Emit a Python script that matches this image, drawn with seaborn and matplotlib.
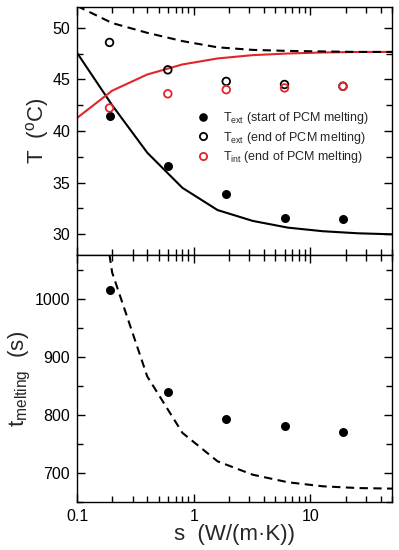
import numpy as np
import pandas as pd
import matplotlib
matplotlib.use("Agg")
import matplotlib.pyplot as plt
import seaborn as sns
from matplotlib.ticker import MultipleLocator, LogLocator, NullFormatter, FixedLocator, FixedFormatter
from matplotlib.lines import Line2D

sns.set_style("ticks")
plt.rcParams['font.family'] = ['Liberation Sans', 'DejaVu Sans']
plt.rcParams['mathtext.fontset'] = 'custom'
plt.rcParams['mathtext.rm'] = 'Liberation Sans'
plt.rcParams['mathtext.it'] = 'Liberation Sans:italic'

# ---- data ----
s_points = [0.19, 0.6, 1.9, 6.0, 19.0]
T_ext_start = [41.46, 36.6, 33.9, 31.6, 31.45]
T_ext_end = [48.57, 45.92, 44.8, 44.5, 44.33]
T_int_end = [42.23, 43.6, 44.0, 44.17, 44.33]
t_melting_pts = [1014, 840, 793, 780, 770]

s_model = [0.1, 0.2, 0.4, 0.8, 1.6, 3.2, 6.4, 12.8, 25.6, 51.2]
T_ext_model_start = [47.57, 42.5, 37.9, 34.5, 32.35, 31.3, 30.65, 30.3, 30.1, 30.0]
T_int_model = [41.26, 43.9, 45.47, 46.44, 47.02, 47.34, 47.5, 47.6, 47.65, 47.65]
T_ext_model_end = [52.1, 50.45, 49.5, 48.7, 48.1, 47.85, 47.75, 47.7, 47.65, 47.65]
t_melting_model = [1450, 1045, 866, 769, 720, 697, 684, 677, 674, 673]

x_ticks = [0.1, 1, 10]
x_ticklabels = ["0.1", "1", "10"]

labels = [r"T$_{\rm ext}$ (start of PCM melting)",
          r"T$_{\rm ext}$ (end of PCM melting)",
          r"T$_{\rm int}$ (end of PCM melting)"]

RED = "#e3242b"

df_m = pd.DataFrame({"s": s_model, "Ts": T_ext_model_start, "Ti": T_int_model,
                     "Te": T_ext_model_end, "tm": t_melting_model})
df_p = pd.DataFrame({"s": s_points, "Ts": T_ext_start, "Te": T_ext_end,
                     "Ti": T_int_end, "tm": t_melting_pts})

fig = plt.figure(figsize=(3.99, 5.5), dpi=100)
W, H = 399, 550
L, R = 77, 392
ax1 = fig.add_axes([L / W, (H - 255) / H, (R - L) / W, 248 / H])
ax2 = fig.add_axes([L / W, (H - 502) / H, (R - L) / W, 247 / H])

lw = 1.5
dash = (4, 2.6)

# top panel
sns.lineplot(data=df_m, x="s", y="Ts", ax=ax1, color="black", lw=lw, legend=False)
sns.lineplot(data=df_m, x="s", y="Ti", ax=ax1, color=RED, lw=lw, legend=False)
sns.lineplot(data=df_m, x="s", y="Te", ax=ax1, color="black", lw=lw, legend=False,
             dashes=False, linestyle=(0, dash))
sns.scatterplot(data=df_p, x="s", y="Ts", ax=ax1, color="black", s=42, linewidth=0, zorder=5)
sns.scatterplot(data=df_p, x="s", y="Te", ax=ax1, facecolor="none", edgecolor="black",
                s=30, linewidth=1.3, zorder=5)
sns.scatterplot(data=df_p, x="s", y="Ti", ax=ax1, facecolor="none", edgecolor=RED,
                s=30, linewidth=1.3, zorder=5)

# bottom panel
sns.lineplot(data=df_m, x="s", y="tm", ax=ax2, color="black", lw=lw, legend=False,
             linestyle=(0, dash))
sns.scatterplot(data=df_p, x="s", y="tm", ax=ax2, color="black", s=42, linewidth=0, zorder=5)

for ax in (ax1, ax2):
    ax.set_xscale("log")
    ax.set_xlim(0.1, 50)
    ax.xaxis.set_major_locator(FixedLocator(x_ticks))
    ax.xaxis.set_minor_locator(LogLocator(base=10, subs=np.arange(2, 10)))
    ax.xaxis.set_minor_formatter(NullFormatter())
    ax.tick_params(which="both", direction="in", top=True, right=True,
                   labelsize=11.5, colors="black", pad=5)
    ax.tick_params(which="major", length=6, width=1.0)
    ax.tick_params(which="minor", length=4, width=1.0)
    for sp in ax.spines.values():
        sp.set_visible(True)
        sp.set_linewidth(1.0)
        sp.set_color("black")

ax1.set_ylim(28, 52)
ax1.yaxis.set_major_locator(MultipleLocator(5))
ax1.yaxis.set_minor_locator(MultipleLocator(2.5))
ax1.set_xticklabels([])
ax1.set_xlabel("")
ax1.set_ylabel(r"T  ($^{\rm o}$C)", fontsize=16, labelpad=1)

ax2.set_ylim(650, 1075)
ax2.yaxis.set_major_locator(MultipleLocator(100))
ax2.yaxis.set_minor_locator(MultipleLocator(50))
ax2.xaxis.set_major_formatter(FixedFormatter(x_ticklabels))
ax2.set_xlabel("s  (W/(m·K))", fontsize=16, labelpad=0)
ax2.set_ylabel(r"t$_{\rm melting}$  (s)", fontsize=16, labelpad=1)

handles = [
    Line2D([], [], ls="none", marker="o", color="black", ms=6.2, mew=0),
    Line2D([], [], ls="none", marker="o", mfc="none", mec="black", ms=5.2, mew=1.3),
    Line2D([], [], ls="none", marker="o", mfc="none", mec=RED, ms=5.2, mew=1.3),
]
ax1.legend(handles, labels, loc="upper left", bbox_to_anchor=(0.36, 0.585),
           frameon=False, fontsize=9, handlelength=2, handletextpad=0.6,
           labelspacing=0.3, borderpad=0, borderaxespad=0)

fig.savefig("out.png", dpi=100)
